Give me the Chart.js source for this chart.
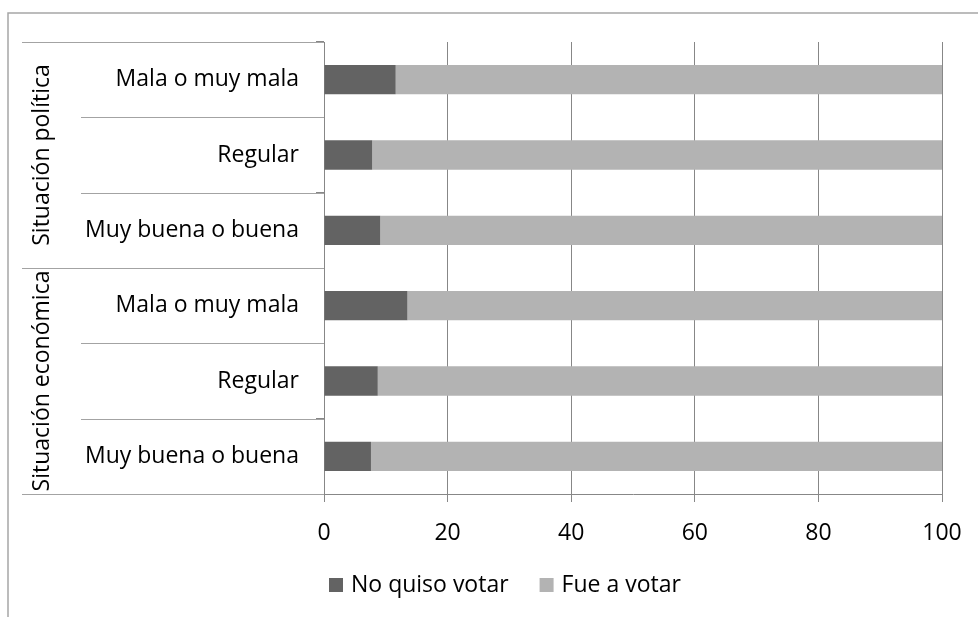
<!DOCTYPE html>
<html>
<head>
<meta charset="utf-8">
<script src="https://cdn.jsdelivr.net/npm/chart.js@4.4.1/dist/chart.umd.min.js"></script>
<style>
html,body{margin:0;padding:0;background:#fff}
#wrap{width:978px;height:617px;position:relative}
</style>
</head>
<body>
<div id="wrap"><canvas id="votoChart"></canvas></div>
<script>

/* =========================
   DATA
========================= */

let categorias = ["Mala o muy mala","Regular","Muy buena o buena","Mala o muy mala","Regular","Muy buena o buena"]
let grupos = ["Situación política","Situación económica"]
let porGrupo = 3

let noQuiso = [11.6, 7.8, 9.1, 13.5, 8.7, 7.6]
let fueVotar = [88.4, 92.2, 90.9, 86.5, 91.3, 92.4]

let xTicks = [0, 20, 40, 60, 80, 100]

let FONT = "'Open Sans', sans-serif"
let LINE = "#a3a3a3"


/* =========================
   LEFT LABELS + FRAME + LEGEND
========================= */

let sidePanel = {
id:"sidePanel",
afterDraw(chart){

let ctx = chart.ctx
let y = chart.scales.y
let area = chart.chartArea
let half = (y.getPixelForValue(1) - y.getPixelForValue(0)) / 2

ctx.save()

/* outer frame */
ctx.strokeStyle = "#a6a6a6"
ctx.lineWidth = 1.5
ctx.beginPath()
ctx.moveTo(8, 617)
ctx.lineTo(8, 13)
ctx.lineTo(978, 13)
ctx.stroke()

/* separators of the label table */
ctx.strokeStyle = LINE
ctx.lineWidth = 1
for(let i=0;i<=categorias.length;i++){
let py = Math.round(y.getPixelForValue(i) - half) + 0.5
let startX = (i % porGrupo === 0) ? 22 : 81
ctx.beginPath()
ctx.moveTo(startX, py)
ctx.lineTo(area.left, py)
ctx.stroke()
}

/* category labels */
ctx.fillStyle = "#000"
ctx.font = "23px " + FONT
ctx.textAlign = "right"
ctx.textBaseline = "middle"
categorias.forEach((c,i)=>{
ctx.fillText(c, 299, y.getPixelForValue(i))
})

/* group labels, rotated */
grupos.forEach((g,k)=>{
let top = y.getPixelForValue(k*porGrupo) - half
let bottom = y.getPixelForValue(k*porGrupo + porGrupo - 1) + half
ctx.save()
ctx.translate(42, (top + bottom) / 2)
ctx.rotate(-Math.PI/2)
ctx.textAlign = "center"
ctx.textBaseline = "middle"
ctx.fillText(g, 0, 0)
ctx.restore()
})

/* legend */
let lx = 329
let ly = 585
ctx.textAlign = "left"
chart.data.datasets.forEach(ds=>{
ctx.fillStyle = ds.backgroundColor
ctx.fillRect(lx, ly - 7, 14, 14)
ctx.fillStyle = "#000"
ctx.fillText(ds.label, lx + 22, ly)
lx += 22 + ctx.measureText(ds.label).width + 31
})

ctx.restore()
}
}


/* =========================
   CHART
========================= */

let ctx = document.getElementById("votoChart").getContext("2d")

let chart = new Chart(ctx,{
type:"bar",
data:{
labels:categorias,
datasets:[
{
label:"No quiso votar",
data:noQuiso,
backgroundColor:"#636363",
barPercentage:0.39,
categoryPercentage:1
},
{
label:"Fue a votar",
data:fueVotar,
backgroundColor:"#b3b3b3",
barPercentage:0.39,
categoryPercentage:1
}
]
},
options:{
indexAxis:"y",
responsive:true,
maintainAspectRatio:false,
animation:false,
layout:{
padding:{left:314, top:42, right:36, bottom:0}
},
plugins:{
legend:{display:false},
tooltip:{enabled:false}
},
scales:{
x:{
stacked:true,
min:0,
max:100,
afterBuildTicks(scale){
scale.ticks = xTicks.map(v=>({value:v}))
},
afterFit(scale){
scale.height = 123
scale.paddingLeft = 0
scale.paddingRight = 0
},
grid:{
color:"#878787",
lineWidth:1,
tickLength:8
},
border:{color:"#878787"},
ticks:{
color:"#000",
font:{family:FONT, size:23},
padding:18
}
},
y:{
stacked:true,
afterFit(scale){
scale.width = 10
},
grid:{
display:true,
offset:true,
drawOnChartArea:false,
tickLength:8,
color:"#878787"
},
border:{color:"#878787"},
ticks:{display:false}
}
}
},
plugins:[sidePanel]
})

</script>
</body>
</html>
